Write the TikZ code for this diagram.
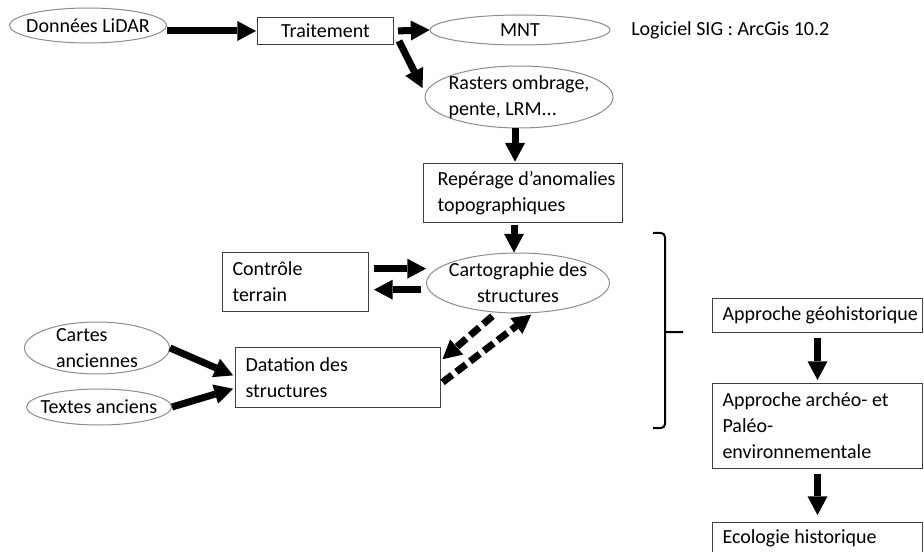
\documentclass[tikz,border=0pt]{standalone}
\usepackage{fontspec}
\setmainfont{Carlito}
\usepackage{tikz}
\usetikzlibrary{shapes.geometric,arrows.meta}

% one line of a box, kept whole and flush left
\newcommand{\ligne}[1]{\makebox[\hsize][l]{#1}}

\begin{document}
\begin{tikzpicture}[x=0.75pt,y=0.75pt,yscale=-1,xscale=1,
    font=\fontsize{15pt}{19.5pt}\selectfont,
    bulle/.style={ellipse,draw=black!45,line width=0.75pt,inner xsep=-8pt,inner ysep=-3pt,align=center},
    boite/.style={rectangle,draw=black!75,line width=0.75pt,anchor=north west,align=flush left,inner xsep=7.5pt,inner ysep=0pt},
    fleche/.style={line width=5.25pt,-{Triangle[length=14pt,width=15pt,line width=0pt]}},
    pointille/.style={dash pattern=on 9pt off 4pt}]
        \clip (0,0) rectangle (924,552);

        %Shape: Ellipse
        \node [bulle,minimum width=117.75pt,minimum height=26.25pt] (lidar) at (88,25.5) {Données LiDAR};
        %Shape: Rectangle
        \node [boite,align=flush center,text width=87pt,minimum height=20.25pt] (trait) at (257,17) {Traitement};
        %Shape: Ellipse
        \node [bulle,minimum width=135pt,minimum height=22.5pt] (mnt) at (520,30) {MNT};
        % Text Node
        \node [anchor=west,inner sep=0.75pt] (logiciel) at (630,30) {Logiciel SIG : ArcGis 10.2};
        %Shape: Ellipse
        \node [bulle,align=left,minimum width=141pt,minimum height=46.5pt] (rasters) at (519,97) {Rasters ombrage,\\pente, LRM...};
        %Shape: Rectangle
        \node [boite,inner xsep=10.5pt,text width=128.25pt,minimum height=44.25pt] (rep) at (423,163) {\ligne{Repérage d’anomalies}\\\ligne{topographiques}};
        %Shape: Ellipse
        \node [bulle,minimum width=137.25pt,minimum height=45pt] (carto) at (518,283) {Cartographie des\\structures};
        %Shape: Rectangle
        \node [boite,text width=94.5pt,minimum height=44.25pt] (ctrl) at (222,252) {\ligne{Contrôle}\\\ligne{terrain}};
        %Shape: Ellipse
        \node [bulle,align=left,minimum width=108.75pt,minimum height=39pt] (cartes) at (97,348) {Cartes\\anciennes};
        %Shape: Ellipse
        \node [bulle,minimum width=108.75pt,minimum height=27pt] (textes) at (99,407) {Textes anciens};
        %Shape: Rectangle
        \node [boite,text width=138.75pt,minimum height=45pt] (dat) at (235,347) {\ligne{Datation des}\\\ligne{structures}};

        %Shape: Rectangle
        \node [boite,text width=142.5pt,minimum height=25.5pt] (geo) at (712,298) {\ligne{Approche géohistorique}};
        %Shape: Rectangle
        \node [boite,text width=142.5pt,minimum height=63.75pt] (arch) at (712,383) {\ligne{Approche archéo- et}\\\ligne{Paléo-}\\\ligne{environnementale}};
        %Shape: Rectangle
        \node [boite,text width=142.5pt,minimum height=24pt] (eco) at (712,522) {\ligne{Ecologie historique}};

        %Straight Lines
        \draw [fleche,shorten >=0.75pt] (lidar.east |- trait.west) -- (trait.west);
        \draw [fleche,shorten <=3pt] (trait.east) -- (mnt.west);
        \draw [fleche] ([shift={(5,-4)}]trait.south east) -- ([shift={(-2,-9)}]rasters.west);
        \draw [fleche,shorten >=1pt] ([xshift=-3pt]rasters.south) -- ([xshift=-3pt]rasters.south |- rep.north);
        \draw [fleche,shorten <=1.5pt] ([xshift=-3pt]carto.north |- rep.south) -- ([xshift=-3pt]carto.north);
        \draw [fleche,shorten <=3.75pt] ([yshift=-10pt]ctrl.east) -- ([yshift=-10pt]ctrl.east -| carto.west);
        \draw [fleche,shorten <=3.5pt,shorten >=3.75pt] ([yshift=5pt]carto.west) -- ([yshift=5pt]carto.west -| ctrl.east);
        \draw [fleche,shorten >=1.5pt] (cartes.east) -- ([yshift=-1pt]dat.west);
        \draw [fleche,shorten >=1.5pt] (textes.east) -- ([yshift=8pt]dat.west);
        %Dashed Lines
        \draw [fleche,pointille,shorten <=4pt,shorten >=1.5pt] (carto.234) -- ([yshift=-12.75pt]dat.east);
        \draw [fleche,pointille,shorten <=1.5pt,shorten >=2pt] ([yshift=4.5pt]dat.east) -- (carto.297);
        %Straight Lines
        \draw [fleche,shorten <=3.75pt,shorten >=2.25pt] (geo.south) -- (arch.north);
        \draw [fleche,shorten <=3.75pt,shorten >=5.25pt] (arch.south) -- (eco.north);

        %Shape: Brace
        \draw [line width=1.5pt,rounded corners=3pt] (653,233) -- (665,233) -- (665,428) -- (653,428) (665,332) -- (683,332);

    \end{tikzpicture}
\end{document}
